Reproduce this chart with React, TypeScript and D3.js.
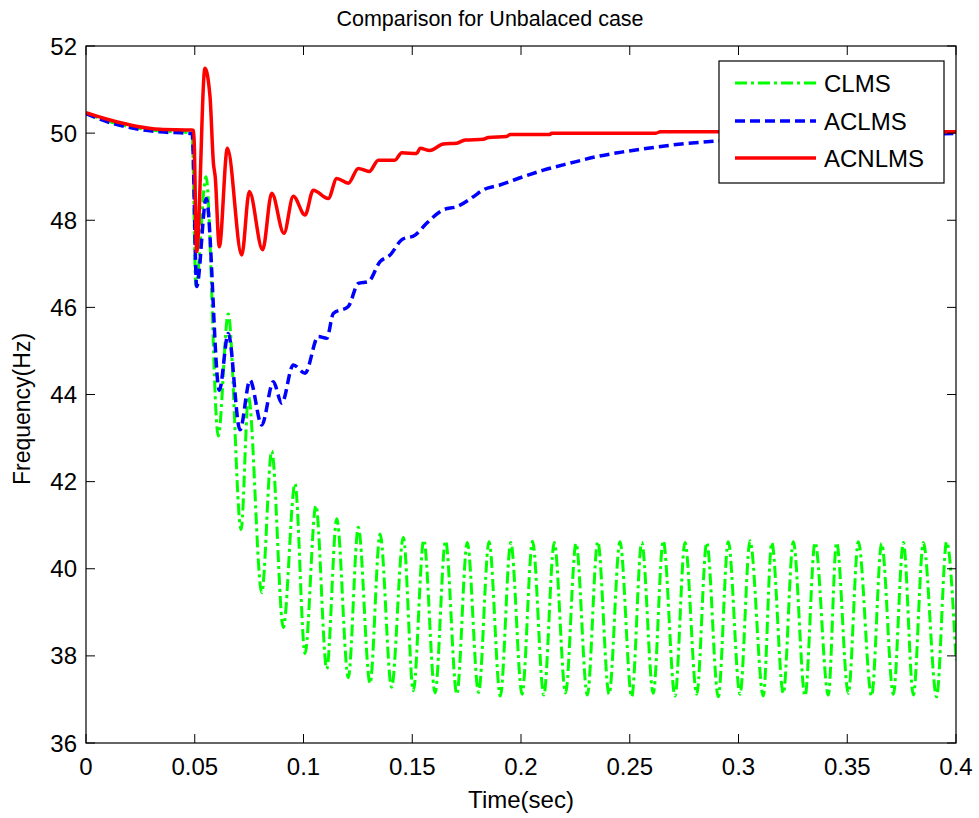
import React from "react";
import * as d3 from "d3";

const xTicks = [0, 0.05, 0.1, 0.15, 0.2, 0.25, 0.3, 0.35, 0.4];
const xTickLabels = ["0", "0.05", "0.1", "0.15", "0.2", "0.25", "0.3", "0.35", "0.4"];
const yTicks = [36, 38, 40, 42, 44, 46, 48, 50, 52];

const seriesNames = ["CLMS", "ACLMS", "ACNLMS"];

const clmsT = [
  0, 0.011, 0.023, 0.034, 0.0488, 0.0505, 0.0552, 0.0608, 0.0654, 0.0713, 0.0747,
  0.0808, 0.0854, 0.0907, 0.0961, 0.1007, 0.1057, 0.1107, 0.1153, 0.1206, 0.1252,
  0.1306, 0.1352, 0.1405, 0.1459, 0.1505, 0.1553,
  0.1605, 0.1653, 0.1705, 0.1753, 0.1805, 0.1853, 0.1905, 0.1953, 0.2005, 0.2053,
  0.2105, 0.2153, 0.2205, 0.2253, 0.2305, 0.2353, 0.2405, 0.2455, 0.2509, 0.2555,
  0.2608, 0.2654, 0.2708, 0.2754, 0.2808, 0.2854, 0.2907, 0.2953, 0.3007, 0.3053,
  0.3114, 0.3153, 0.3206, 0.3252, 0.3306, 0.3352, 0.3413, 0.3451, 0.3505, 0.3551,
  0.3612, 0.3658, 0.3712, 0.3758, 0.3804, 0.385, 0.3911, 0.3957, 0.4,
];
const clmsF = [
  50.45, 50.26, 50.12, 50.05, 50.01, 46.5, 49.0, 43.05, 45.85, 40.9, 43.95,
  39.45, 42.7, 38.65, 41.95, 38.05, 41.45, 37.7, 41.15, 37.5, 40.95,
  37.37, 40.8, 37.28, 40.72, 37.2, 40.66,
  37.15, 40.64, 37.12, 40.6, 37.16, 40.62, 37.08, 40.6, 37.12, 40.63,
  37.1, 40.6, 37.15, 40.58, 37.1, 40.62, 37.12, 40.62, 37.06, 40.6,
  37.14, 40.64, 37.08, 40.6, 37.12, 40.6, 37.06, 40.62, 37.12, 40.64,
  37.08, 40.6, 37.14, 40.62, 37.08, 40.6, 37.1, 40.6, 37.14, 40.62,
  37.08, 40.58, 37.12, 40.6, 37.1, 40.6, 37.06, 40.62, 37.9,
];

const aclmsT = [
  0, 0.011, 0.023, 0.034, 0.0488, 0.0509, 0.0553, 0.0613, 0.0654, 0.0708, 0.0754,
  0.0808, 0.0861, 0.09, 0.0953, 0.1007, 0.1068, 0.1107, 0.1137, 0.1206, 0.1252,
  0.1298, 0.1352, 0.1398, 0.1451, 0.1513, 0.1566, 0.1643, 0.1704, 0.1781, 0.1827,
  0.1903, 0.2011, 0.2103, 0.2225, 0.2348, 0.247, 0.2593, 0.27, 0.2854, 0.3, 0.33,
  0.36, 0.4,
];
const aclmsF = [
  50.45, 50.24, 50.1, 50.03, 49.99, 46.48, 48.5, 44.1, 45.4, 43.19, 44.33,
  43.3, 44.29, 43.8, 44.68, 44.49, 45.33, 45.29, 45.86, 46.02, 46.55,
  46.59, 47.05, 47.2, 47.55, 47.66, 47.93, 48.24, 48.31, 48.54, 48.7,
  48.81, 49.0, 49.15, 49.31, 49.46, 49.57, 49.66, 49.73, 49.8, 49.85, 49.92,
  49.96, 49.99,
];

const acnlmsT = [
  0, 0.011, 0.023, 0.034, 0.0486, 0.0495, 0.0509, 0.0547, 0.057, 0.0586, 0.0594,
  0.0613, 0.065, 0.0716, 0.0751, 0.0812, 0.0854, 0.091, 0.0953, 0.1007, 0.1045,
  0.1114, 0.1153, 0.1206, 0.1252, 0.1302, 0.1344, 0.142, 0.1452, 0.152, 0.1536,
  0.158, 0.1643, 0.1704, 0.1743, 0.1827, 0.185, 0.1934, 0.195, 0.2133, 0.2141,
  0.262, 0.264, 0.4,
];
const acnlmsF = [
  50.47, 50.3, 50.16, 50.09, 50.07, 50.06, 47.28, 51.49, 50.85, 49.3, 49.0,
  47.39, 49.65, 47.2, 48.66, 47.32, 48.62, 47.7, 48.55, 48.12, 48.69,
  48.5, 48.96, 48.85, 49.19, 49.12, 49.38, 49.38, 49.55, 49.53, 49.65,
  49.6, 49.75, 49.77, 49.84, 49.86, 49.9, 49.92, 49.97, 49.97, 50.0,
  50.0, 50.03, 50.03,
];

const W = 979;
const H = 818;
const M = { left: 86, right: 956, top: 46, bottom: 743 };
const FONT = "'Liberation Sans', Arial, Helvetica, sans-serif";

export default function App() {
  const x = d3.scaleLinear().domain([0, 0.4]).range([M.left, M.right]);
  const y = d3.scaleLinear().domain([36, 52]).range([M.bottom, M.top]);
  const line = d3
    .line<[number, number]>()
    .x((d) => x(d[0]))
    .y((d) => y(d[1]))
    .curve(d3.curveMonotoneX);

  const series = [
    { name: seriesNames[0], t: clmsT, f: clmsF, color: "#00ff00", dash: "12,4,3,4", width: 3 },
    { name: seriesNames[1], t: aclmsT, f: aclmsF, color: "#0000ff", dash: "10,5", width: 3.5 },
    { name: seriesNames[2], t: acnlmsT, f: acnlmsF, color: "#ff0000", dash: "none", width: 3.5 },
  ];

  const tickLen = 9;
  const legend = { x0: 719, y0: 61, x1: 944, y1: 183 };
  const legendRows = [83, 121, 158];

  return (
    <svg
      width={W}
      height={H}
      style={{ position: "absolute", left: 0, top: 0, background: "#fff" }}
      fontFamily={FONT}
    >
      <rect x={0} y={0} width={W} height={H} fill="#fff" />
      <defs>
        <clipPath id="plotclip">
          <rect x={M.left} y={M.top} width={M.right - M.left} height={M.bottom - M.top} />
        </clipPath>
      </defs>

      <g clipPath="url(#plotclip)">
        {series.map((s) => (
          <path
            key={s.name}
            d={line(s.t.map((t, i) => [t, s.f[i]] as [number, number])) || ""}
            fill="none"
            stroke={s.color}
            strokeWidth={s.width}
            strokeDasharray={s.dash}
            strokeLinejoin="round"
          />
        ))}
      </g>

      <rect
        x={M.left}
        y={M.top}
        width={M.right - M.left}
        height={M.bottom - M.top}
        fill="none"
        stroke="#000"
        strokeWidth={1.2}
      />

      {xTicks.map((t, i) => (
        <g key={"xt" + i}>
          <line x1={x(t)} x2={x(t)} y1={M.bottom} y2={M.bottom - tickLen} stroke="#000" strokeWidth={1} />
          <line x1={x(t)} x2={x(t)} y1={M.top} y2={M.top + tickLen} stroke="#000" strokeWidth={1} />
          <text x={x(t)} y={775} textAnchor="middle" fontSize={24} fill="#000">
            {xTickLabels[i]}
          </text>
        </g>
      ))}

      {yTicks.map((v, i) => (
        <g key={"yt" + i}>
          <line x1={M.left} x2={M.left + tickLen} y1={y(v)} y2={y(v)} stroke="#000" strokeWidth={1} />
          <line x1={M.right} x2={M.right - tickLen} y1={y(v)} y2={y(v)} stroke="#000" strokeWidth={1} />
          <text x={77} y={y(v) + 8.5} textAnchor="end" fontSize={24} fill="#000">
            {v}
          </text>
        </g>
      ))}

      <text x={490} y={26} textAnchor="middle" fontSize={21.5} fill="#000">
        Comparison for Unbalaced case
      </text>
      <text x={(M.left + M.right) / 2} y={808} textAnchor="middle" fontSize={24} fill="#000">
        Time(sec)
      </text>
      <text
        transform={`translate(30, 409) rotate(-90)`}
        textAnchor="middle"
        fontSize={23}
        fill="#000"
      >
        Frequency(Hz)
      </text>

      <rect
        x={legend.x0}
        y={legend.y0}
        width={legend.x1 - legend.x0}
        height={legend.y1 - legend.y0}
        fill="#fff"
        stroke="#000"
        strokeWidth={1.2}
      />
      {series.map((s, i) => (
        <g key={"lg" + i}>
          <line
            x1={735}
            x2={816}
            y1={legendRows[i]}
            y2={legendRows[i]}
            stroke={s.color}
            strokeWidth={s.width}
            strokeDasharray={s.dash}
          />
          <text x={824} y={legendRows[i] + 9} fontSize={24} fill="#000">
            {s.name}
          </text>
        </g>
      ))}
    </svg>
  );
}
